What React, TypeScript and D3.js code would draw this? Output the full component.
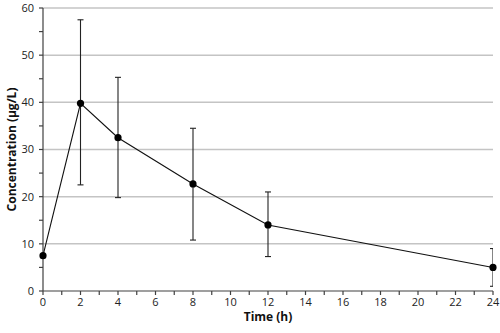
import React from "react";
import * as d3 from "d3";

const times = [0, 2, 4, 8, 12, 24];
const means = [7.5, 39.8, 32.5, 22.7, 14.0, 5.0];
const upper = [7.5, 57.5, 45.3, 34.5, 21.0, 9.0];
const lower = [7.5, 22.5, 19.8, 10.8, 7.3, 1.0];
const xTicks = [0, 2, 4, 6, 8, 10, 12, 14, 16, 18, 20, 22, 24];
const yTicks = [0, 10, 20, 30, 40, 50, 60];

export default function App() {
  const W = 500, H = 333;
  const left = 43, right = 493, top = 8, bottom = 291;
  const x = d3.scaleLinear().domain([0, 24]).range([left, right]);
  const y = d3.scaleLinear().domain([0, 60]).range([bottom, top]);
  const line = d3.line<number>().x((_, i) => x(times[i])).y((d) => y(d));
  const font = "'Open Sans', sans-serif";
  const minorX = d3.range(0, 25, 1);
  const minorY = d3.range(0, 61, 5);
  const cap = 3;
  return (
    <svg width={W} height={H} style={{ position: "absolute", left: 0, top: 0, background: "#fff" }}>
      <defs>
        <clipPath id="plot">
          <rect x={left - 4} y={0} width={right - left + 4} height={bottom + 2} />
        </clipPath>
      </defs>
      {yTicks.filter((t) => t > 0).map((t) => (
        <line key={t} x1={left} x2={right} y1={y(t)} y2={y(t)} stroke="#c4c4c4" strokeWidth={1.5} />
      ))}
      <line x1={left} x2={left} y1={top} y2={bottom} stroke="#404040" strokeWidth={1.2} />
      {minorY.map((t) => (
        <line key={t} x1={left - 4} x2={left} y1={y(t)} y2={y(t)} stroke="#404040" strokeWidth={1.2} />
      ))}
      {yTicks.map((t) => (
        <text key={t} x={left - 9} y={y(t)} dy="0.35em" textAnchor="end" fontSize={11} fontFamily={font} fill="#222">
          {t}
        </text>
      ))}
      <line x1={left} x2={right} y1={bottom} y2={bottom} stroke="#404040" strokeWidth={1.2} />
      {minorX.map((t) => (
        <line key={t} x1={x(t)} x2={x(t)} y1={bottom} y2={bottom + 4} stroke="#404040" strokeWidth={1.2} />
      ))}
      {xTicks.map((t) => (
        <text key={t} x={x(t)} y={bottom + 11} dy="0.35em" textAnchor="middle" fontSize={11} fontFamily={font} fill="#222">
          {t}
        </text>
      ))}
      <g clipPath="url(#plot)" stroke="#222" strokeWidth={1.1}>
        {times.map((t, i) =>
          upper[i] === lower[i] ? null : (
            <g key={t}>
              <line x1={x(t)} x2={x(t)} y1={y(upper[i])} y2={y(lower[i])} />
              <line x1={x(t) - cap} x2={Math.min(x(t) + cap, right)} y1={y(upper[i])} y2={y(upper[i])} />
              <line x1={x(t) - cap} x2={Math.min(x(t) + cap, right)} y1={y(lower[i])} y2={y(lower[i])} />
            </g>
          )
        )}
      </g>
      <path d={line(means) || ""} fill="none" stroke="#111" strokeWidth={1.1} />
      {times.map((t, i) => (
        <circle key={t} cx={x(t)} cy={y(means[i])} r={3.6} fill="#000" />
      ))}
      <text x={(left + right) / 2} y={317} dy="0.35em" textAnchor="middle" fontSize={12} fontWeight="bold" fontFamily={font} fill="#111">
        Time (h)
      </text>
      <text transform={`translate(12,${(top + bottom) / 2}) rotate(-90)`} textAnchor="middle" dy="0.35em" fontSize={12} fontWeight="bold" fontFamily={font} fill="#111">
        Concentration (µg/L)
      </text>
    </svg>
  );
}
